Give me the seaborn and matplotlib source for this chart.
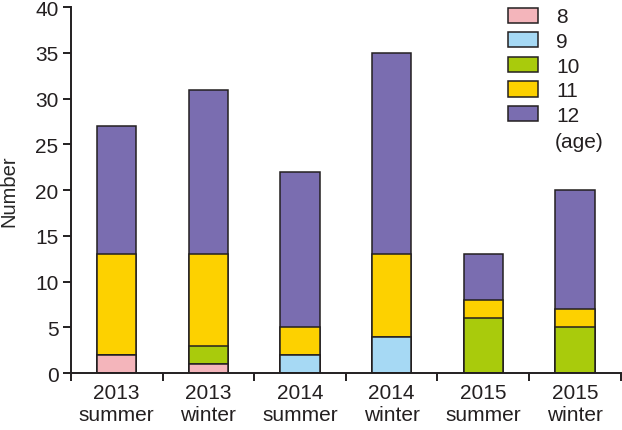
import numpy as np
import pandas as pd
import seaborn as sns
import matplotlib.pyplot as plt
from matplotlib.patches import Patch
from matplotlib.ticker import FixedLocator

seasons = ["2013\nsummer", "2013\nwinter", "2014\nsummer", "2014\nwinter", "2015\nsummer", "2015\nwinter"]
ages = ["8", "9", "10", "11", "12"]
age8 = [2, 1, 0, 0, 0, 0]
age9 = [0, 0, 2, 4, 0, 0]
age10 = [0, 2, 0, 0, 6, 5]
age11 = [11, 10, 3, 9, 2, 2]
age12 = [14, 18, 17, 22, 5, 13]

palette = ["#F4B5BB", "#A6D9F4", "#A9CB0C", "#FDD100", "#7A6DB0"]
ink = "#231f20"

sns.set_style("ticks")
plt.rcParams["font.family"] = ["Liberation Sans", "DejaVu Sans"]
plt.rcParams["text.color"] = ink

counts = pd.DataFrame({"season": seasons, "8": age8, "9": age9, "10": age10, "11": age11, "12": age12})
cum = counts[ages].cumsum(axis=1)

fig, ax = plt.subplots(figsize=(6.22, 4.31), dpi=100)
fig.subplots_adjust(left=0.114, right=0.998, bottom=0.132, top=0.981)

# layered bars, tallest (cumulative) first
for age, color in reversed(list(zip(ages, palette))):
    sns.barplot(x=counts["season"], y=cum[age], ax=ax, color=color, saturation=1,
                width=0.43, edgecolor=ink, linewidth=1.1)

ax.set_xlim(-0.5, 5.5)
ax.set_ylim(0, 40)
ax.set_yticks(range(0, 41, 5))
ax.set_xlabel("")
ax.set_ylabel("Number", fontsize=14.5, labelpad=12)
ax.tick_params(axis="x", which="major", length=0, labelsize=15, pad=7, labelcolor=ink)
ax.tick_params(axis="y", labelsize=15, length=6, width=1.4, color=ink, labelcolor=ink, pad=3)
ax.xaxis.set_minor_locator(FixedLocator(np.arange(-0.5, 6, 1)))
ax.tick_params(axis="x", which="minor", length=6, width=1.4, color=ink)
for s in ["left", "bottom"]:
    ax.spines[s].set_linewidth(1.4)
    ax.spines[s].set_color(ink)
sns.despine(ax=ax)

handles = [Patch(facecolor=c, edgecolor=ink, linewidth=1.1) for c in palette]
leg = ax.legend(handles, ages, loc="upper left", bbox_to_anchor=(0.78, 1.022), frameon=False,
                fontsize=15, handlelength=1.45, handleheight=0.75, labelspacing=0.27,
                handletextpad=0.85, borderaxespad=0)
fig.text(555 / 622, 1 - 142 / 431, "(age)", fontsize=15, va="center", ha="left")

plt.savefig("out.png", dpi=100)
